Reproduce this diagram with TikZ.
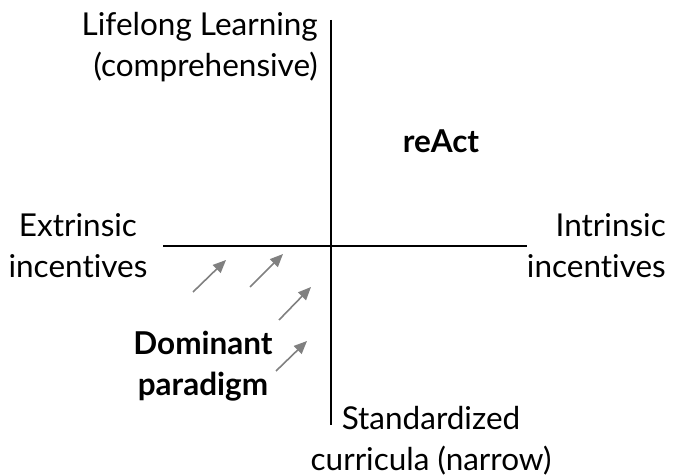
\documentclass[tikz,border=0pt]{standalone}
\usepackage{fontspec}
\setmainfont{Lato}[Ligatures=NoCommon]
\usetikzlibrary{arrows.meta}
\begin{document}
\begin{tikzpicture}[x=1pt,y=-1pt,
  lbl/.style={font=\fontsize{31.5}{41}\selectfont, inner sep=0pt},
  blbl/.style={font=\fontsize{31.5}{41}\selectfont\bfseries, inner sep=0pt, align=center},
  axis/.style={line width=2.7pt, black},
  push/.style={draw=gray, line width=1.6pt, -{Triangle[length=13pt,width=11pt]}}]
\useasboundingbox (0,0) rectangle (680,476);
% axes
\coordinate (vtop) at (331,20);
\coordinate (vbot) at (331,425);
\coordinate (hl) at (163,246);
\coordinate (hr) at (527,246);
\draw[axis] (vtop) -- (vbot);
\draw[axis] (hl) -- (hr);
% labels
\node[lbl, align=right, anchor=base east] (top) at (318,77) {Lifelong Learning\\(comprehensive)};
\node[blbl, anchor=base] (react) at (441,153) {reAct};
\node[lbl, align=center, anchor=base] (ext) at (78,277) {Extrinsic\\incentives};
\node[lbl, align=right, anchor=base east] (int) at (666,277) {Intrinsic\\incentives};
\node[blbl, anchor=base] (dom) at (203,395) {Dominant\\paradigm};
\node[lbl, align=center, anchor=base] (std) at (431,470) {Standardized\\curricula (narrow)};
% arrows
\coordinate (a1) at (193,292); \coordinate (b1) at (226,260);
\coordinate (a2) at (250,287); \coordinate (b2) at (283,254);
\coordinate (a3) at (279,320); \coordinate (b3) at (311,287);
\coordinate (a4) at (276,371); \coordinate (b4) at (307,341);
\draw[push] (a1) -- (b1);
\draw[push] (a2) -- (b2);
\draw[push] (a3) -- (b3);
\draw[push] (a4) -- (b4);
\end{tikzpicture}
\end{document}
